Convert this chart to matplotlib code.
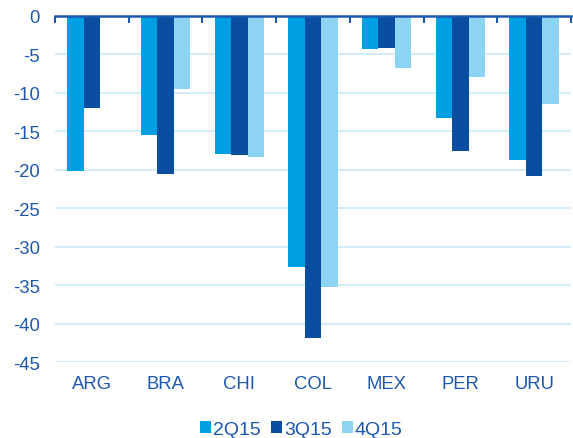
import matplotlib
matplotlib.use("Agg")
import matplotlib.pyplot as plt
import numpy as np

plt.rcParams['font.family'] = ['Liberation Sans', 'DejaVu Sans']

categories = ["ARG", "BRA", "CHI", "COL", "MEX", "PER", "URU"]
series_names = ["2Q15", "3Q15", "4Q15"]
q2_15 = [-20.1, -15.5, -18.0, -32.7, -4.3, -13.3, -18.7]
q3_15 = [-11.9, -20.6, -18.1, -41.9, -4.2, -17.6, -20.8]
q4_15 = [0.0, -9.5, -18.4, -35.2, -6.8, -7.9, -11.4]
y_ticks = [0, -5, -10, -15, -20, -25, -30, -35, -40, -45]

colors = ["#009fe3", "#0a4ea2", "#8dd3f3"]
text_color = "#1c58b0"
grid_color = "#c9e9f8"

fig = plt.figure(figsize=(5.73, 4.39), dpi=100)
ax = fig.add_axes([0.096, 0.173, 0.9005, 0.7883])

x = np.arange(len(categories))
width = 0.224
for i, (vals, name, c) in enumerate(zip([q2_15, q3_15, q4_15], series_names, colors)):
    ax.bar(x + (i - 1) * width, vals, width, color=c, label=name, zorder=3)

ax.set_xlim(-0.5, len(categories) - 0.5)
ax.set_ylim(-45, 0)
ax.set_yticks(y_ticks)
ax.set_yticklabels([str(v) for v in y_ticks])
ax.set_xticks(x)
ax.set_xticklabels(categories)

ax.yaxis.grid(True, color=grid_color, linewidth=1.2, zorder=0)
ax.set_axisbelow(True)
ax.tick_params(axis='both', length=0, labelsize=13.3, colors=text_color)
ax.tick_params(axis='y', pad=11)
ax.tick_params(axis='x', pad=9)

for side in ["left", "right", "bottom"]:
    ax.spines[side].set_visible(False)
ax.spines["top"].set_color("#1c58b0")
ax.spines["top"].set_linewidth(1.8)
ax.spines["top"].set_zorder(5)

# category boundary ticks along the zero line
sec = ax.secondary_xaxis('top')
sec.set_xticks(np.arange(len(categories) + 1) - 0.5)
sec.set_xticklabels([])
sec.tick_params(direction='in', length=5, width=1.5, color="#1c58b0")
sec.spines['top'].set_visible(False)

leg = fig.legend(loc='center', bbox_to_anchor=(0.526, 0.019), ncol=3, frameon=False,
                 fontsize=14, handlelength=0.55, handleheight=0.55, handletextpad=0.1,
                 columnspacing=0.55, borderaxespad=0)
for t in leg.get_texts():
    t.set_color(text_color)

fig.savefig("out.png", dpi=100)
